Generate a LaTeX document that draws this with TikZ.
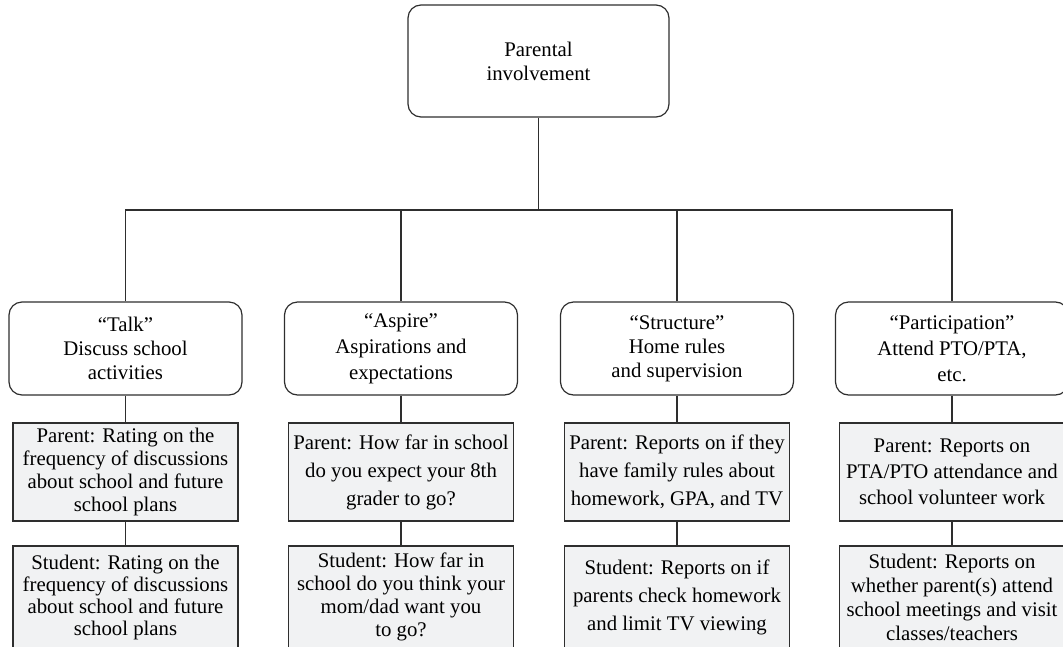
\documentclass[tikz,border=0pt]{standalone}
\usepackage{tikz}
\usepackage{fontspec}
\setmainfont{Liberation Serif}
\definecolor{boxgray}{HTML}{F1F2F3}
\definecolor{linegray}{HTML}{2E2E2E}

\begin{document}
\begin{tikzpicture}[x=1pt,y=-1pt,
        every node/.style={font=\fontsize{20.8}{23}\selectfont, align=center, inner sep=0pt},
        group/.style={draw=linegray, line width=1.2pt, rounded corners=13pt,
                minimum width=233pt, minimum height=93pt, font=\fontsize{20.8}{24}\selectfont},
        measure/.style={draw=linegray, line width=1.2pt, fill=boxgray,
                minimum width=225pt, minimum height=98pt},
        tall/.style={minimum height=102pt},
        loose/.style={font=\fontsize{20.8}{28}\selectfont},
        link/.style={draw=linegray, line width=1.2pt}]
        \path[use as bounding box] (0,0) rectangle (1063,646);
        \clip (0,0) rectangle (1063,646);
        % top of the tree
        \node[group, minimum width=261pt, minimum height=112pt] (top) at (538.5,61) {Parental\\involvement};
        \coordinate (bus) at (538.5,210);
        % four groups
        \node[group] (talk) at (125.5,348.5) {“Talk”\\Discuss school\\activities};
        \node[group, font=\fontsize{20.8}{26}\selectfont] (aspire) at (401,348.5) {“Aspire”\\Aspirations and\\expectations};
        \node[group] (struct) at (677,348.5) {“Structure”\\Home rules\\and supervision};
        \node[group, font=\fontsize{20.8}{26}\selectfont] (partic) at (952,348.5) {“Participation”\\Attend PTO/PTA,\\etc.};
        % parent reports
        \node[measure] (talkP) at (125.5,472) {Parent: Rating on the\\frequency of discussions\\about school and future\\school plans};
        \node[measure, loose] (aspireP) at (401,472) {Parent: How far in school\\do you expect your 8th\\grader to go?};
        \node[measure, loose] (structP) at (677,472) {Parent: Reports on if they\\have family rules about\\homework, GPA, and TV};
        \node[measure, font=\fontsize{20.8}{26}\selectfont] (particP) at (952,472) {Parent: Reports on\\PTA/PTO attendance and\\school volunteer work};
        % student reports
        \node[measure, tall, font=\fontsize{20.8}{22}\selectfont] (talkS) at (125.5,597) {Student: Rating on the\\frequency of discussions\\about school and future\\school plans};
        \node[measure, tall, font=\fontsize{20.8}{23}\selectfont] (aspireS) at (401,597) {Student: How far in\\school do you think your\\mom/dad want you\\to go?};
        \node[measure, tall, loose] (structS) at (677,597) {Student: Reports on if\\parents check homework\\and limit TV viewing};
        \node[measure, tall, font=\fontsize{20.8}{24}\selectfont] (particS) at (952,597) {Student: Reports on\\whether parent(s) attend\\school meetings and visit\\classes/teachers};
        % connectors
        \draw[link] (top.south) -- (bus);
        \draw[link] (talk.north) |- (bus) -| (partic.north);
        \draw[link] (aspire.north) -- (aspire.north |- bus);
        \draw[link] (struct.north) -- (struct.north |- bus);
        \foreach \g in {talk,aspire,struct,partic}{
                \draw[link] (\g.south) -- (\g P.north);
                \draw[link] (\g P.south) -- (\g S.north);
        }
\end{tikzpicture}
\end{document}
